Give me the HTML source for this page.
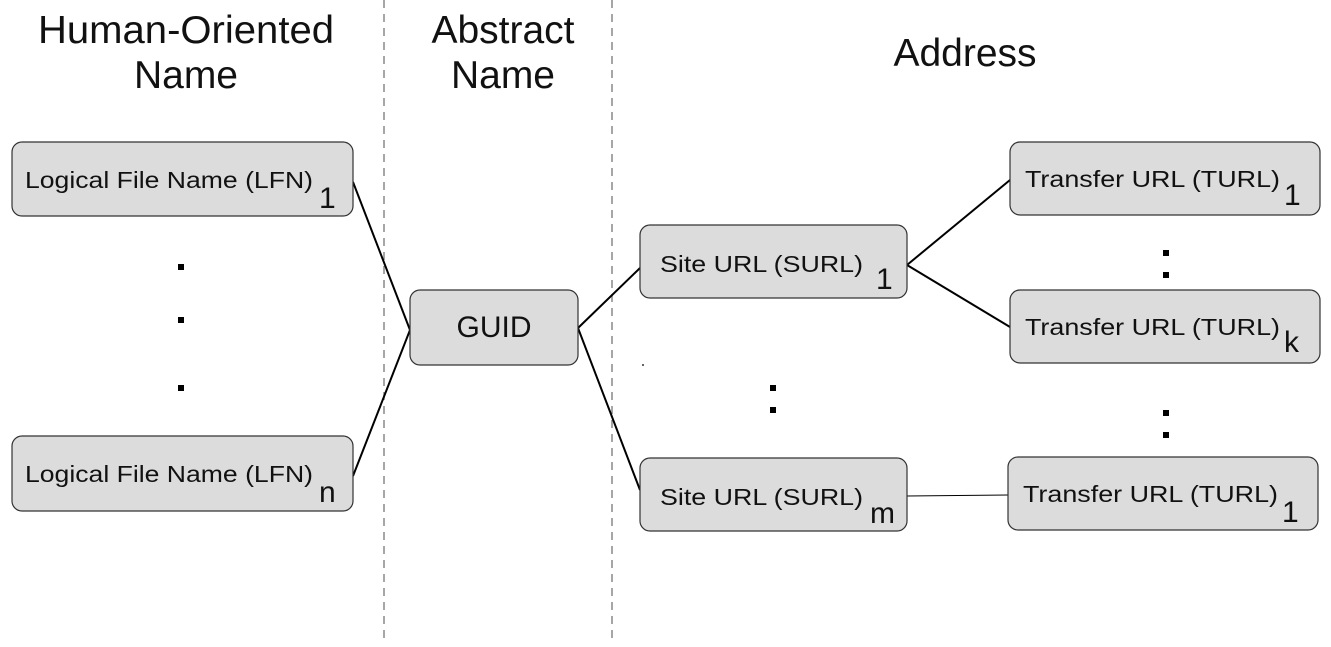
<!DOCTYPE html>
<html><head><style>
html,body{margin:0;padding:0;background:#fff;}
svg{display:block;font-family:"Liberation Sans",Arial,sans-serif;}
</style></head><body>
<svg width="1331" height="647" viewBox="0 0 1331 647" xmlns="http://www.w3.org/2000/svg">
<g stroke="#888" stroke-width="1.5" stroke-dasharray="8,6">
<line x1="384" y1="0" x2="384" y2="640"/>
<line x1="612" y1="0" x2="612" y2="640"/>
</g>
<g font-size="39" fill="#111" text-anchor="middle">
<text x="186" y="43" textLength="296" lengthAdjust="spacingAndGlyphs">Human-Oriented</text>
<text x="186" y="88">Name</text>
<text x="503" y="43">Abstract</text>
<text x="503" y="88">Name</text>
<text x="965" y="66">Address</text>
</g>
<g stroke="#000" stroke-width="2" fill="none">
<line x1="353" y1="182" x2="410" y2="330"/>
<line x1="353" y1="476" x2="410" y2="330"/>
<line x1="578" y1="328" x2="640" y2="268"/>
<line x1="578" y1="328" x2="640" y2="490"/>
<line x1="907" y1="265" x2="1010" y2="180"/>
<line x1="907" y1="265" x2="1010" y2="327"/>
<line x1="907" y1="496" x2="1008" y2="495" stroke-width="1"/>
</g>
<g fill="#dcdcdc" stroke="#333" stroke-width="1.2">
<rect x="12" y="142" width="341" height="74" rx="10"/>
<rect x="12" y="436" width="341" height="75" rx="10"/>
<rect x="410" y="290" width="168" height="75" rx="10"/>
<rect x="640" y="225" width="267" height="73" rx="10"/>
<rect x="640" y="458" width="267" height="73" rx="10"/>
<rect x="1010" y="142" width="310" height="73" rx="10"/>
<rect x="1010" y="290" width="310" height="73" rx="10"/>
<rect x="1008" y="457" width="310" height="73" rx="10"/>
</g>
<g fill="#111" font-size="23">
<text x="25" y="188" textLength="288" lengthAdjust="spacingAndGlyphs">Logical File Name (LFN)</text>
<text x="319" y="208" font-size="30">1</text>
<text x="25" y="482" textLength="288" lengthAdjust="spacingAndGlyphs">Logical File Name (LFN)</text>
<text x="319" y="502" font-size="30">n</text>
<text x="494" y="337" font-size="30" text-anchor="middle">GUID</text>
<text x="660" y="272" textLength="203" lengthAdjust="spacingAndGlyphs">Site URL (SURL)</text>
<text x="876" y="289" font-size="30">1</text>
<text x="660" y="505" textLength="203" lengthAdjust="spacingAndGlyphs">Site URL (SURL)</text>
<text x="870" y="523" font-size="30">m</text>
<text x="1025" y="187" textLength="255" lengthAdjust="spacingAndGlyphs">Transfer URL (TURL)</text>
<text x="1284" y="205" font-size="30">1</text>
<text x="1025" y="335" textLength="255" lengthAdjust="spacingAndGlyphs">Transfer URL (TURL)</text>
<text x="1284" y="352" font-size="30">k</text>
<text x="1023" y="502" textLength="255" lengthAdjust="spacingAndGlyphs">Transfer URL (TURL)</text>
<text x="1282" y="522" font-size="30">1</text>
</g>
<g fill="#000">
<rect x="178" y="264" width="6" height="6"/>
<rect x="178" y="317" width="6" height="6"/>
<rect x="178" y="385" width="6" height="6"/>
<rect x="770" y="385" width="6" height="6"/>
<rect x="770" y="407" width="6" height="6"/>
<rect x="1163" y="250" width="6" height="6"/>
<rect x="1163" y="272" width="6" height="6"/>
<rect x="1163" y="410" width="6" height="6"/>
<rect x="1163" y="432" width="6" height="6"/>
<rect x="642" y="364" width="2" height="2" fill="#666"/>
</g>
</svg>
</body></html>
